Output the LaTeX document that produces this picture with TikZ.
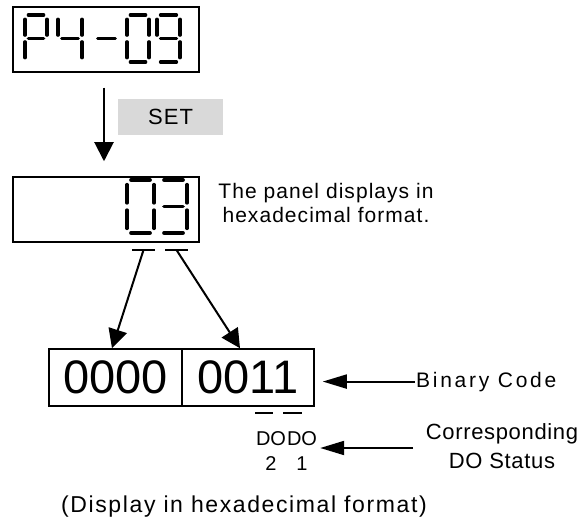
\documentclass[tikz,border=0pt]{standalone}
\usepackage{fontspec}
\setmainfont{Liberation Sans}
\usetikzlibrary{arrows.meta}

% seven segment digit: [stroke] {x}{y top}{width}{height}{segments}
\newcommand{\lcddigit}[6][3.2]{%
  \begin{scope}[shift={(#2,#3)}, x=#4pt, y=-#5pt,
      segstroke/.append style={line width=#1pt}]
    \foreach \s in {#6} {\pic {seg \s};}
  \end{scope}}

\tikzset{
  panel/.style={draw, line width=1.5pt, minimum width=186pt, minimum height=65pt, inner sep=0pt},
  segstroke/.style={line width=3.2pt, line cap=round},
  seg A/.pic={\draw[segstroke] (0.15,0) -- (0.85,0);},
  seg B/.pic={\draw[segstroke] (1,0.09) -- (1,0.43);},
  seg C/.pic={\draw[segstroke] (1,0.57) -- (1,0.91);},
  seg D/.pic={\draw[segstroke] (0.15,1) -- (0.85,1);},
  seg E/.pic={\draw[segstroke] (0,0.57) -- (0,0.91);},
  seg F/.pic={\draw[segstroke] (0,0.09) -- (0,0.43);},
  seg G/.pic={\draw[segstroke] (0.15,0.5) -- (0.85,0.5);},
  setkey/.style={fill=black!15, minimum width=105pt, minimum height=36pt, inner sep=0pt,
    font=\fontsize{22}{24}\selectfont\addfontfeatures{LetterSpace=5}},
  binbox/.style={draw, line width=1.5pt, minimum width=133pt, minimum height=57pt, inner sep=0pt,
    font=\fontsize{47}{50}\selectfont},
  note/.style={align=center, inner sep=1pt,
    font=\fontsize{21}{24}\selectfont\addfontfeatures{LetterSpace=5}},
  sidelbl/.style={inner sep=1pt, font=\fontsize{21}{24}\selectfont\addfontfeatures{LetterSpace=13}},
  statlbl/.style={align=center, inner sep=1pt,
    font=\fontsize{22}{29}\selectfont\addfontfeatures{LetterSpace=3}},
  dolbl/.style={align=center, inner sep=0pt, inner xsep=3pt, font=\fontsize{20}{25}\selectfont},
  caption/.style={inner sep=1pt, font=\fontsize{23}{26}\selectfont\addfontfeatures{LetterSpace=7}},
  bar/.style={line width=2pt},
  bigarrow/.style={line width=2pt, -{Triangle[length=19pt,width=19pt]}},
  sidearrow/.style={line width=2pt, -{Triangle[length=24pt,width=14pt]}}
}

\begin{document}
\begin{tikzpicture}[x=1pt, y=-1pt]
  \useasboundingbox (0,0) rectangle (583,521);
  % parameter display P4-09
  \node[panel] (disp) at (106,39.5) {};
  \lcddigit{25}{15}{22}{47}{A,B,E,F,G}
  \lcddigit{58}{15}{24}{47}{B,C,F,G}
  \lcddigit{94}{15}{25}{47}{G}
  \lcddigit{127}{15}{22}{47}{A,B,C,D,E,F}
  \lcddigit{157}{15}{23}{47}{A,B,C,D,F,G}
  % SET key
  \node[setkey] (set) at (170.5,117) {SET};
  % hex display 03
  \node[panel] (hex) at (106,209.5) {};
  \lcddigit[3.8]{127}{180}{27}{53}{A,B,C,D,E,F}
  \lcddigit[3.8]{160}{180}{27}{53}{A,B,C,D,G}
  \draw[bigarrow] ([xshift=-2pt,yshift=-15pt]disp.south) -- ([xshift=-2pt,yshift=15pt]hex.north);
  \node[note] (hexnote) at (326,203) {The panel displays in\\hexadecimal format.};
  % digit marks
  \draw[bar] (132,250) -- (155,250);
  \draw[bar] (165,250) -- (188,250);
  \coordinate (hi) at (143.5,250);
  \coordinate (lo) at (176.5,250);
  % binary code
  \node[binbox] (binhi) at (115.5,377.5) {0000};
  \node[binbox, minimum width=132pt] (binlo) at (248,377.5) {0011};
  \draw[bigarrow] (hi) -- ([xshift=-3.5pt]binhi.north);
  \draw[bigarrow] (lo) -- ([xshift=-8pt]binlo.north);
  \node[sidelbl, anchor=base west] (bincode) at (415,387) {Binary Code};
  \draw[sidearrow, shorten >=8pt] (bincode.west) -- (bincode.west -| binlo.east);
  % DO outputs
  \draw[bar] (255,413) -- (273,413);
  \draw[bar] (283,413) -- (302,413);
  \node[dolbl] (do2) at (271,451) {DO\\2};
  \node[dolbl] (do1) at (302,451) {DO\\1};
  \node[statlbl] (dostat) at (502,446) {Corresponding\\DO Status};
  \coordinate (dotail) at (413,448);
  \draw[sidearrow] (dotail) -- (dotail -| do1.east);
  \node[caption] (cap) at (244,507) {(Display in hexadecimal format)};
\end{tikzpicture}
\end{document}
